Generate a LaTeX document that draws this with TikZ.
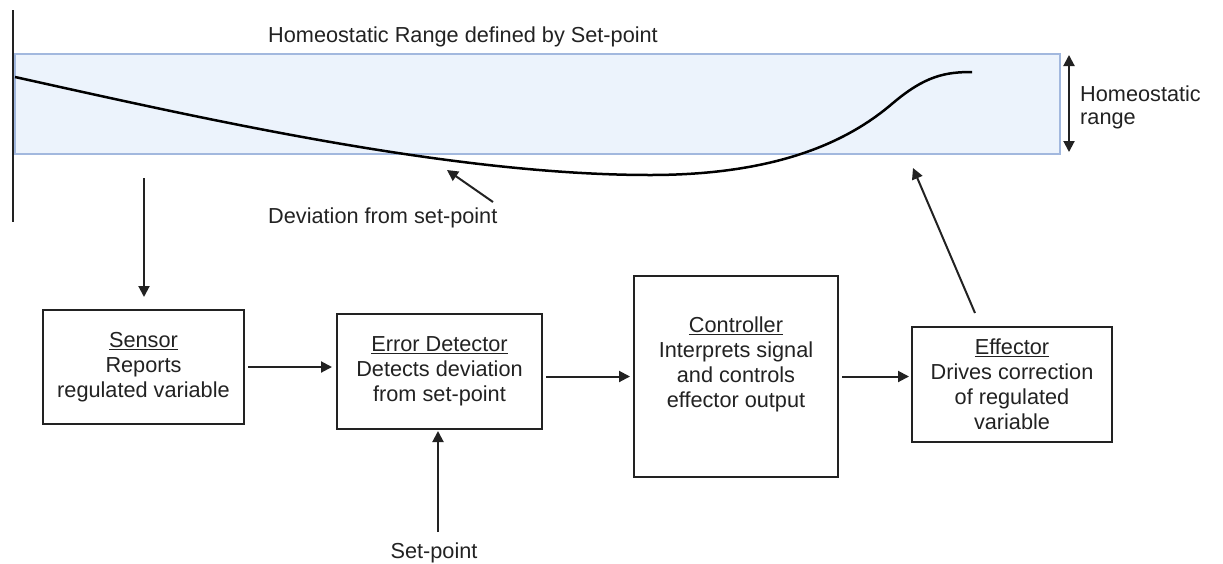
\documentclass[tikz,border=0pt]{standalone}
\usepackage{fontspec}
\setmainfont{Liberation Sans}
\usetikzlibrary{arrows.meta}
\definecolor{ink}{HTML}{222222}
\definecolor{rangefill}{HTML}{ECF3FC}
\definecolor{rangeedge}{HTML}{A2B8DE}
\begin{document}
\begin{tikzpicture}[x=1pt,y=-1pt,
  txt/.style={text=ink, font=\fontsize{21.7}{25}\selectfont, inner sep=0pt},
  blk/.style={draw=ink, line width=2pt, fill=white, inner sep=0pt},
  arr/.style={draw=ink, line width=2pt, -{Triangle[width=11pt,length=11pt]}},
  darr/.style={draw=ink, line width=2pt, {Triangle[width=11pt,length=11pt]}-{Triangle[width=11pt,length=11pt]}},
  rangebox/.style={draw=rangeedge, fill=rangefill, line width=1.6pt}
]
\useasboundingbox (0,0) rectangle (1223,563);

% homeostatic range band
\draw[rangebox] (15,54) rectangle (1060,154);
\draw[ink, line width=2pt] (13,10) -- (13,222);
\draw[black, line width=2.5pt] (15,77) .. controls (200,118) and (450,175) .. (650,175)
  .. controls (780,175) and (850,140) .. (893,103)
  .. controls (925,76) and (945,72) .. (972,72);

\node[txt, anchor=base west] (titleT) at (268,42) {Homeostatic Range defined by Set-point};
\node[txt, anchor=base west] (devT) at (268,223) {Deviation from set-point};
\node[txt, anchor=base west] (hrT1) at (1080,101) {Homeostatic};
\node[txt, anchor=base west] (hrT2) at (1080,124) {range};

\coordinate (hrTop) at (1069,55);
\coordinate (hrBot) at (1069,152);
\draw[darr] (hrTop) -- (hrBot);

\coordinate (devTail) at (493,202);
\coordinate (devHead) at (447,170);
\draw[arr] (devTail) -- (devHead);

% blocks
\node[blk, minimum width=201pt, minimum height=114pt] (sensor) at (143.5,367) {};
\node[txt, align=center] (sensorT) at (sensor.center) {\underline{Sensor}\\Reports\\regulated variable};

\node[blk, minimum width=205pt, minimum height=115pt] (ed) at (439.5,371.5) {};
\node[txt, align=center] (edT) at (ed.center) {\underline{Error Detector}\\Detects deviation\\from set-point};

\node[blk, minimum width=204pt, minimum height=201pt] (ctrl) at (736,376.5) {};
\node[txt, align=center] (ctrlT) at (736,364.5) {\underline{Controller}\\Interprets signal\\and controls\\effector output};

\node[blk, minimum width=200pt, minimum height=115pt] (eff) at (1012,384.5) {};
\node[txt, align=center] (effT) at (eff.center) {\underline{Effector}\\Drives correction\\of regulated\\variable};

% connectors
\coordinate (sensIn) at (144,178);
\draw[arr, shorten >=12pt] (sensIn) -- (sensIn |- sensor.north);

\draw[arr] ([xshift=3pt]sensor.east) -- ([xshift=-4pt]ed.west |- sensor.east);
\draw[arr] ([xshift=3pt]ed.east |- ctrl.west) -- ([xshift=-3pt]ctrl.west);
\draw[arr] ([xshift=3pt]ctrl.east) -- ([xshift=-2pt]eff.west |- ctrl.east);

\coordinate (effOut) at (975,313);
\coordinate (rangeIn) at (913,168);
\draw[arr] (effOut) -- (rangeIn);

\coordinate (setp) at (438,532);
\draw[arr, shorten >=1pt] (setp) -- (setp |- ed.south);
\node[txt, anchor=base] (spT) at (434,558) {Set-point};
\end{tikzpicture}
\end{document}
